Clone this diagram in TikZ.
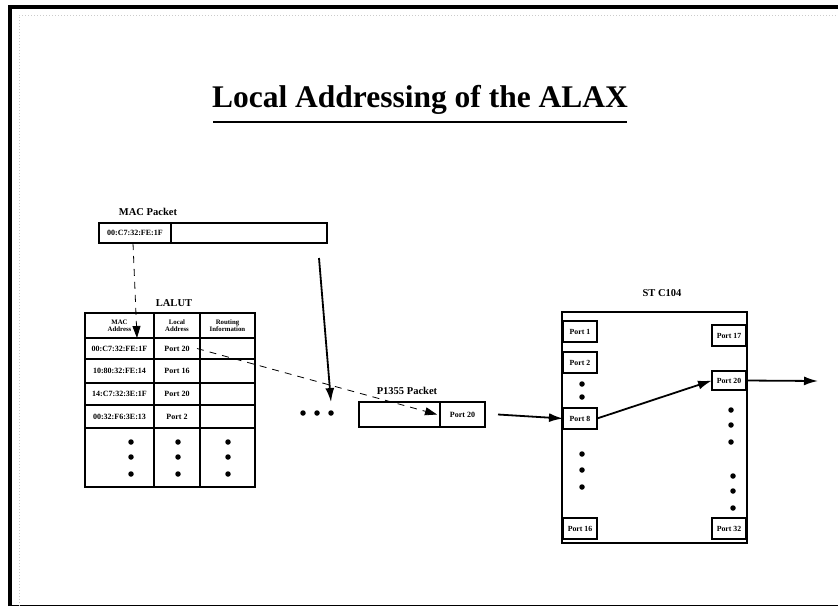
\documentclass[tikz,border=0pt]{standalone}
\usepackage{fontspec}
\setmainfont{Liberation Serif}
\usetikzlibrary{arrows.meta,positioning}

\begin{document}
\begin{tikzpicture}[x=1pt, y=-1pt,
    cell/.style={draw, line width=1.1pt, inner sep=1pt, outer sep=0pt, anchor=north west, font=\fontsize{8}{9}\selectfont\bfseries},
    hcell/.style={cell, align=center, font=\fontsize{6.8}{7.2}\selectfont\bfseries},
    port/.style={draw, line width=1.1pt, minimum width=34pt, minimum height=21pt, inner sep=1pt, outer sep=0pt, anchor=north west, font=\fontsize{7.8}{8}\selectfont\bfseries},
    lbl/.style={font=\fontsize{10.5}{11}\selectfont\bfseries},
    dot/.style={circle, fill, inner sep=0pt, minimum size=5.5pt},
    conn/.style={line width=1.8pt, -{Latex[length=14pt,width=9pt]}},
    lookup/.style={dashed, dash pattern=on 7pt off 6pt, line width=0.8pt, -{Triangle[length=12pt,width=8pt]}}]
    \useasboundingbox (0,0) rectangle (838,606);
    % frame of the slide
    \draw[line width=3.5pt] (10,606) -- (10,7) -- (838,7);
    \draw[line width=1pt] (10,605) -- (838,605);
    \draw[gray!40, dotted, line width=1pt] (19,606) -- (19,15) -- (838,15);
    % title
    \node[font=\fontsize{31.5}{33}\selectfont\bfseries] (title) at (420,100) {Local Addressing of the ALAX};
    \draw[line width=2.2pt] (213,122) -- (627,122);
    % MAC packet
    \node[lbl] (maclbl) at (148,212) {MAC Packet};
    \node[cell, minimum width=72pt, minimum height=20pt] (macaddr) at (99,223) {00:C7:32:FE:1F};
    \node[cell, minimum width=156pt, minimum height=20pt] (macdata) at (macaddr.north east) {};
    % LALUT
    \node[lbl] (lalutlbl) at (174,303) {LALUT};
    \node[hcell, minimum width=69pt, minimum height=25pt] (hmac) at (85,313) {MAC\\Address};
    \node[hcell, minimum width=46pt, minimum height=25pt] (hloc) at (154,313) {Local\\Address};
    \node[hcell, minimum width=55pt, minimum height=25pt] (hrte) at (200,313) {Routing\\Information};
    \foreach \y/\h/\a/\p [count=\i] in {338/21/00:C7:32:FE:1F/Port 20, 359/24/10:80:32:FE:14/Port 16,
        383/22/14:C7:32:3E:1F/Port 20, 405/23/00:32:F6:3E:13/Port 2} {
      \node[cell, minimum width=69pt, minimum height=\h pt] (mac\i) at (85,\y) {\a};
      \node[cell, minimum width=46pt, minimum height=\h pt] (loc\i) at (154,\y) {\p};
      \node[cell, minimum width=55pt, minimum height=\h pt] (rte\i) at (200,\y) {};
    }
    \node[cell, minimum width=69pt, minimum height=59pt] (macdots) at (85,428) {};
    \node[cell, minimum width=46pt, minimum height=59pt] (locdots) at (154,428) {};
    \node[cell, minimum width=55pt, minimum height=59pt] (rtedots) at (200,428) {};
    \foreach \x/\c in {131/m, 178/l, 228/r}
      \foreach \y [count=\j] in {442,457,474}
        \node[dot] (\c dot\j) at (\x,\y) {};
    \draw[line width=2pt] (hmac.north west) rectangle (rtedots.south east);
    \draw[lookup] ([xshift=-2pt]macaddr.south) -- ([xshift=17.5pt]mac1.north);
    % P1355 packet
    \node[dot] (dota) at (303,413) {};
    \node[dot] (dotb) at (317,413) {};
    \node[dot] (dotc) at (331,413) {};
    \draw[conn] ([xshift=70pt, yshift=-15pt]macdata.south) -- ([yshift=8pt]dotc.north);
    \node[lbl] (plbl) at (407,391) {P1355 Packet};
    \node[cell, minimum width=81pt, minimum height=25pt] (pdata) at (359,402) {};
    \node[cell, minimum width=45pt, minimum height=25pt] (pport) at (pdata.north east) {Port 20};
    \draw[lookup] ([xshift=-3pt]loc1.east) -- ([xshift=-3pt]pdata.east);
    % ST C104 switch
    \node[lbl] (stlbl) at (662,293) {ST C104};
    \node[draw, line width=1.8pt, minimum width=185pt, minimum height=231pt, anchor=north west, outer sep=0pt] (st) at (562,312) {};
    \node[port] (p1) at (563,321) {Port 1};
    \node[port] (p2) at (563,352) {Port 2};
    \node[port] (p8) at (563,408) {Port 8};
    \node[port] (p16) at (563,518) {Port 16};
    \node[port] (p17) at (712,325) {Port 17};
    \node[port, minimum height=19pt] (p20) at (712,371) {Port 20};
    \node[port] (p32) at (712,518) {Port 32};
    \foreach \y [count=\j] in {384,397,454,470,487}
      \node[dot] (ldot\j) at (582,\y) {};
    \foreach \x/\y [count=\j] in {731/410, 731/425, 731/442, 733/476, 733/491, 733/508}
      \node[dot] (rdot\j) at (\x,\y) {};
    \coordinate (out) at (818,381);
    \draw[conn] ([xshift=13pt]pport.east) -- (p8.west);
    \draw[conn] (p8.east) -- (p20.west);
    \draw[conn] (p20.east) -- (out);
\end{tikzpicture}
\end{document}
